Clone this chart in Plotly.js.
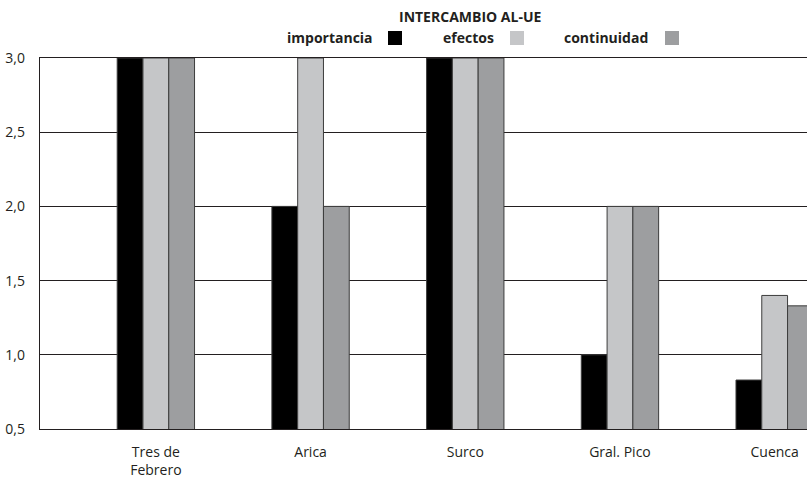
<!DOCTYPE html>
<html>
<head>
<meta charset="utf-8">
<script src="https://cdn.plot.ly/plotly-3.0.1.min.js"></script>
<style>html,body{margin:0;padding:0;background:#fff;}#chart{width:807px;height:478px;}</style>
</head>
<body>
<div id="chart"></div>
<script>
var categories = ["Tres de<br>Febrero", "Arica", "Surco", "Gral. Pico", "Cuenca"];
var seriesNames = ["importancia", "efectos", "continuidad"];
var importancia = [3.0, 2.0, 3.0, 1.0, 0.83];
var efectos = [3.0, 3.0, 3.0, 2.0, 1.40];
var continuidad = [3.0, 2.0, 3.0, 2.0, 1.33];
var colors = ["#000000", "#c5c6c8", "#9d9ea0"];
var yTicks = [0.5, 1.0, 1.5, 2.0, 2.5, 3.0];
var chartTitle = "INTERCAMBIO AL-UE";

var values = [importancia, efectos, continuidad];
var textColor = "#231f20";
var font = "'Open Sans', 'Noto Sans', sans-serif";

var traces = values.map(function (v, i) {
  return {
    type: "bar",
    name: seriesNames[i],
    x: categories,
    y: v,
    marker: { color: colors[i], line: { color: "#3c3c3c", width: 1 } },
    showlegend: false,
    hoverinfo: "skip"
  };
});

// plot area in pixels
var W = 807, H = 478, L = 40, R = 0, T = 58, B = 49;
var pw = W - L - R, ph = H - T - B;
function px2x(p) { return (p - L) / pw; }
function py2y(p) { return (H - B - p) / ph; }

var annotations = [{
  xref: "paper", yref: "paper", x: px2x(469.5), y: py2y(16.5),
  text: "<b>" + chartTitle + "</b>", showarrow: false,
  xanchor: "center", yanchor: "middle",
  font: { family: font, size: 14, color: textColor }
}];
var shapes = [];
// legend entries: text right edge and swatch left edge (px)
var legendTextRight = [375, 496, 650];
var legendSwatchLeft = [388, 510, 665];
var sw = 14, legY = 38;
seriesNames.forEach(function (n, i) {
  annotations.push({
    xref: "paper", yref: "paper", x: px2x(legendTextRight[i]), y: py2y(legY),
    text: "<b>" + n + "</b>", showarrow: false, xanchor: "right", yanchor: "middle",
    font: { family: font, size: 14, color: textColor }
  });
  shapes.push({
    type: "rect", xref: "paper", yref: "paper",
    x0: px2x(legendSwatchLeft[i]), x1: px2x(legendSwatchLeft[i] + sw),
    y0: py2y(legY + sw / 2), y1: py2y(legY - sw / 2),
    fillcolor: colors[i], line: { width: 0 }
  });
});

var layout = {
  width: W, height: H,
  margin: { l: L, r: R, t: T, b: B, pad: 0 },
  paper_bgcolor: "#ffffff", plot_bgcolor: "#ffffff",
  separators: ",.",
  barmode: "group", bargap: 0.5, bargroupgap: 0,
  font: { family: font, size: 14, color: textColor },
  xaxis: {
    type: "category",
    range: [-0.749, 4.209],
    showgrid: false, zeroline: false,
    showline: true, mirror: true, linecolor: "#231f20", linewidth: 1.3,
    ticks: "", ticklabelstandoff: 10,
    tickfont: { family: font, size: 14, color: textColor },
    fixedrange: true
  },
  yaxis: {
    range: [0.5, 3.0],
    tickvals: yTicks, tickformat: ".1f",
    showgrid: true, gridcolor: "#231f20", gridwidth: 1,
    zeroline: false,
    showline: true, linecolor: "#231f20", linewidth: 1.3,
    ticks: "", ticklabelstandoff: 11,
    tickfont: { family: font, size: 14, color: textColor },
    fixedrange: true
  },
  annotations: annotations,
  shapes: shapes
};

Plotly.newPlot("chart", traces, layout, { displayModeBar: false, staticPlot: true });
</script>
</body>
</html>
